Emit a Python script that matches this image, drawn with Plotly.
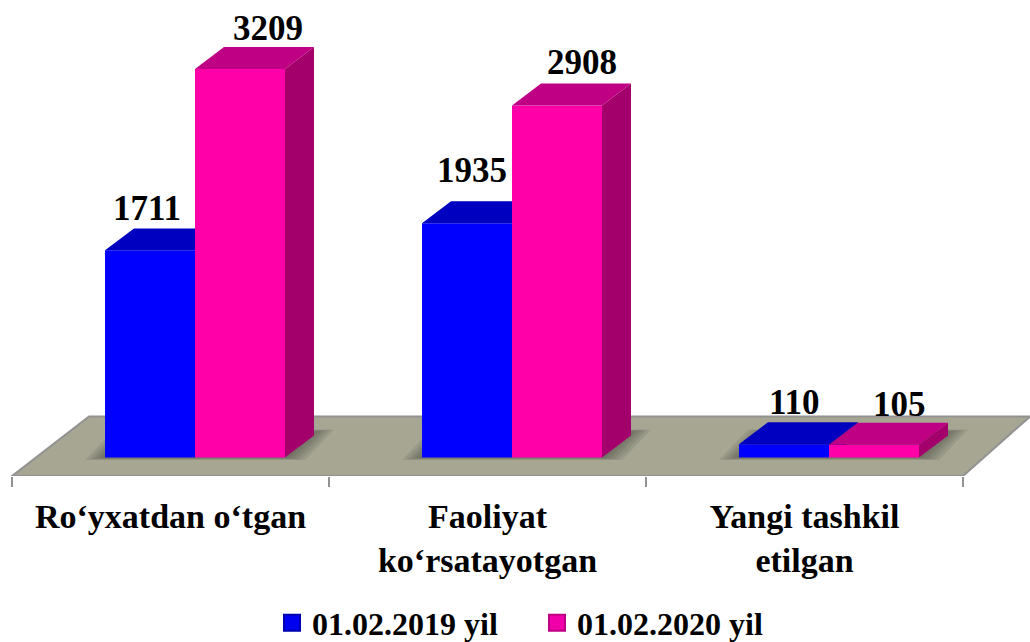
import plotly.graph_objects as go

categories = ["Ro‘yxatdan o‘tgan", "Faoliyat<br>ko‘rsatayotgan", "Yangi tashkil<br>etilgan"]
series_2019 = [1711, 1935, 110]
series_2020 = [3209, 2908, 105]
series_names = ["01.02.2019 yil", "01.02.2020 yil"]

W, H = 1030, 642
AXIS_PX, BOTTOM_PX = 12, 476.5
CAT_PX = 317.0
UNIT_PX = 0.1212
BASE_PX = 458
X_RANGE = [-AXIS_PX / CAT_PX, (W - AXIS_PX) / CAT_PX]
Y_RANGE = [-(BOTTOM_PX - BASE_PX) / UNIT_PX, BASE_PX / UNIT_PX]
BAR_W = 90 / CAT_PX
DX = 29 / CAT_PX
DY = 22 / UNIT_PX
CENTER_SHIFT = 24.5 / CAT_PX
centres = [i + 0.5 + CENTER_SHIFT for i in range(3)]
FONT = "Liberation Serif"


def faces(xs, vals):
    sx, sy, tx, ty = [], [], [], []
    for x, v in zip(xs, vals):
        l, r = x - BAR_W / 2, x + BAR_W / 2
        sx += [r, r + DX, r + DX, r, r, None]
        sy += [0, DY, v + DY, v, 0, None]
        tx += [l, l + DX, r + DX, r, l, None]
        ty += [v, v + DY, v + DY, v, v, None]
    return sx, sy, tx, ty


fig = go.Figure()


def add_series(name, xs, vals, front, top, side, xa, ya):
    sx, sy, tx, ty = faces(xs, vals)
    fig.add_trace(go.Bar(x=xs, y=vals, width=BAR_W, marker=dict(color=front, line=dict(width=0)),
                         name=name, showlegend=False, xaxis=xa, yaxis=ya, hoverinfo="x+y"))
    for px, py, col in ((sx, sy, side), (tx, ty, top)):
        fig.add_trace(go.Scatter(x=px, y=py, mode="lines", fill="toself", fillcolor=col,
                                 line=dict(width=0, color=col), showlegend=False,
                                 hoverinfo="skip", xaxis=xa, yaxis=ya))


xs_blue = [c - BAR_W / 2 for c in centres]
xs_pink = [c + BAR_W / 2 for c in centres]
add_series(series_names[0], xs_blue, series_2019, "#0000FF", "#0000C0", "#0000A0", "x", "y")
add_series(series_names[1], xs_pink, series_2020, "#FF00A8", "#C00084", "#A3006C", "x2", "y2")

# legend keys
for name, col, edge in zip(series_names, ("#0000F0", "#F000A8"), ("#0000B0", "#C00084")):
    fig.add_trace(go.Scatter(x=[None], y=[None], mode="markers", name=f"<b>{name}</b>",
                             marker=dict(symbol="square", size=16, color=col,
                                         line=dict(width=2, color=edge))))

shapes = []
# floor: its front edge serves as the category axis line
fl = 77 / CAT_PX
back = (BOTTOM_PX - 417) / UNIT_PX + Y_RANGE[0]
shapes.append(dict(type="path", layer="below", xref="x", yref="y",
                   path=f"M0,{Y_RANGE[0]} L{fl},{back} L{X_RANGE[1]},{back} L3,{Y_RANGE[0]} Z",
                   fillcolor="#A6A693", line=dict(color="#929292", width=2)))
# soft contact shadows of each bar group
for c in centres:
    L, R = c - BAR_W, c + BAR_W
    for e_px in (4, 8, 12, 16, 20):
        e = e_px / CAT_PX
        b = -(e_px * 0.12) / UNIT_PX
        t = (26 + e_px * 0.1) / UNIT_PX
        shapes.append(dict(type="path", layer="below", xref="x", yref="y",
                           path=f"M{L-e},{b} L{R+e},{b} L{R+DX+e},{t} L{L+DX-e},{t} Z",
                           fillcolor="#45453a", opacity=0.13, line=dict(width=0)))

# value labels
label_shift_2019 = [(-3, 42), (5, 53), (10, 42)]
label_shift_2020 = [(28, 41), (25, 43), (25, 40)]
annotations = []
for xs, vals, shifts in ((xs_blue, series_2019, label_shift_2019), (xs_pink, series_2020, label_shift_2020)):
    for x, v, (sx, sy) in zip(xs, vals, shifts):
        annotations.append(dict(x=x, y=v, xref="x", yref="y", text=f"<b>{v}</b>", showarrow=False,
                                xshift=sx, yshift=sy, xanchor="center", yanchor="middle",
                                font=dict(family=FONT, size=35, color="#000000")))

fig.update_layout(
    width=W, height=H, autosize=False,
    margin=dict(l=0, r=0, t=0, b=H - BOTTOM_PX, pad=0, autoexpand=False),
    paper_bgcolor="#FFFFFF", plot_bgcolor="rgba(0,0,0,0)",
    barmode="overlay", shapes=shapes, annotations=annotations,
    font=dict(family=FONT, color="#000000"),
    xaxis=dict(range=X_RANGE, showgrid=False, zeroline=False, showline=False, automargin=False,
               tickmode="array", tickvals=[0.5, 1.5, 2.5],
               ticktext=[f"<b>{c}</b>" for c in categories], ticks="",
               tickfont=dict(family=FONT, size=34), ticklabelstandoff=17, tickangle=0,
               minor=dict(tickmode="array", tickvals=[0, 1, 2, 3], ticks="outside", ticklen=10,
                          tickcolor="#929292", tickwidth=2, showgrid=False)),
    yaxis=dict(range=Y_RANGE, visible=False),
    xaxis2=dict(range=X_RANGE, overlaying="x", visible=False),
    yaxis2=dict(range=Y_RANGE, overlaying="y", visible=False),
    legend=dict(orientation="h", x=272 / W, xanchor="left", y=-(596 - BOTTOM_PX) / BOTTOM_PX,
                yanchor="top", font=dict(family=FONT, size=32),
                entrywidth=220, entrywidthmode="pixels",
                itemsizing="trace", bgcolor="rgba(0,0,0,0)"),
    showlegend=True,
)
fig.write_html("out.html", post_script="document.body.style.margin='0';",
               config={"displayModeBar": False})
